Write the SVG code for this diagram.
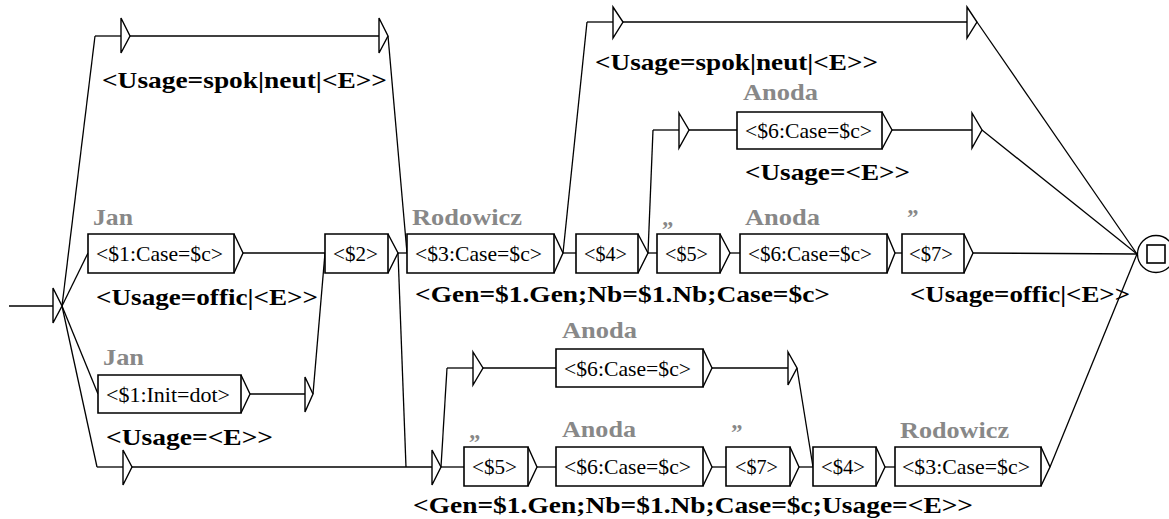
<svg xmlns="http://www.w3.org/2000/svg" width="1169" height="519" viewBox="0 0 1169 519">
<style>
.bx{fill:#fff;stroke:#000;stroke-width:1.6}
.ar{fill:none;stroke:#000;stroke-width:1.4}
.cn line,.cn polyline{stroke:#000;stroke-width:1.3;fill:none}
.tri{fill:#fff;stroke:#000;stroke-width:1.4}
.in{font-family:"Liberation Serif","Times New Roman",serif;font-size:21px;fill:#000}
.out{font-family:"Liberation Serif","Times New Roman",serif;font-size:23px;font-weight:bold;fill:#000}
.lbl{font-family:"Liberation Serif","Times New Roman",serif;font-size:23px;font-weight:bold;fill:#888}
</style>
<rect width="1169" height="519" fill="#fff"/>
<g class="cn" id="connectors">
<line x1="9" y1="306" x2="53" y2="306"/>
<line x1="62" y1="306" x2="95" y2="36"/>
<line x1="62" y1="306" x2="88" y2="253"/>
<line x1="62" y1="306" x2="98" y2="394"/>
<line x1="62" y1="306" x2="97" y2="467"/>
<line x1="95" y1="36" x2="121" y2="36"/>
<line x1="130" y1="36" x2="379" y2="36"/>
<line x1="388" y1="36" x2="407" y2="253"/>
<line x1="243" y1="253" x2="325" y2="253"/>
<line x1="250" y1="394" x2="305" y2="394"/>
<line x1="313" y1="394" x2="325" y2="253"/>
<line x1="398" y1="253" x2="407" y2="253"/>
<line x1="398" y1="253" x2="406" y2="467"/>
<line x1="97" y1="467" x2="123" y2="467"/>
<line x1="132" y1="467" x2="432" y2="467"/>
<line x1="563" y1="253" x2="576" y2="253"/>
<line x1="563" y1="253" x2="587" y2="22"/>
<line x1="587" y1="22" x2="613" y2="22"/>
<line x1="623" y1="22" x2="967" y2="22"/>
<line x1="977" y1="22" x2="1137" y2="254"/>
<line x1="648" y1="253" x2="657" y2="253"/>
<line x1="648" y1="253" x2="653" y2="130"/>
<line x1="653" y1="130" x2="679" y2="130"/>
<line x1="689" y1="130" x2="737" y2="130"/>
<line x1="892" y1="130" x2="972" y2="130"/>
<line x1="982" y1="130" x2="1137" y2="254"/>
<line x1="730" y1="253" x2="740" y2="253"/>
<line x1="895" y1="253" x2="902" y2="253"/>
<line x1="973" y1="253" x2="1137" y2="254"/>
<line x1="441" y1="467" x2="464" y2="467"/>
<line x1="441" y1="467" x2="447" y2="368"/>
<line x1="447" y1="368" x2="473" y2="368"/>
<line x1="483" y1="368" x2="556" y2="368"/>
<line x1="712" y1="368" x2="788" y2="368"/>
<line x1="797" y1="368" x2="813" y2="467"/>
<line x1="537" y1="467" x2="556" y2="467"/>
<line x1="712" y1="467" x2="726" y2="467"/>
<line x1="799" y1="467" x2="813" y2="467"/>
<line x1="885" y1="467" x2="895" y2="467"/>
<line x1="1050" y1="467" x2="1137" y2="254"/>
</g>
<g id="initial"><path class="tri" d="M53 288 L62 306 L53 323 Z"/></g>
<g id="final"><circle cx="1156" cy="254" r="18.5" fill="#fff" stroke="#000" stroke-width="1.3"/><rect x="1147" y="245" width="18" height="18" fill="#fff" stroke="#000" stroke-width="1.6"/></g>
<g id="eps-A"><path class="tri" d="M121 18 L130 36 L121 53 Z"/><path class="tri" d="M379 18 L388 36 L379 53 Z"/><text class="out" x="102" y="88" textLength="285" lengthAdjust="spacingAndGlyphs">&lt;Usage=spok|neut|&lt;E&gt;&gt;</text></g>
<g id="eps-G"><path class="tri" d="M613 7 L623 22 L613 38 Z"/><path class="tri" d="M967 7 L977 22 L967 38 Z"/><text class="out" x="595" y="70" textLength="283" lengthAdjust="spacingAndGlyphs">&lt;Usage=spok|neut|&lt;E&gt;&gt;</text></g>
<g id="eps-I"><path class="tri" d="M679 113 L689 130 L679 148 Z"/><path class="tri" d="M972 113 L982 130 L972 148 Z"/></g>
<g id="eps-C2"><path class="tri" d="M305 377 L313 394 L305 412 Z"/></g>
<g id="eps-D"><path class="tri" d="M123 450 L132 467 L123 485 Z"/></g>
<g id="eps-L"><path class="tri" d="M432 450 L441 467 L432 485 Z"/><text class="out" x="413" y="513" textLength="560" lengthAdjust="spacingAndGlyphs">&lt;Gen=$1.Gen;Nb=$1.Nb;Case=$c;Usage=&lt;E&gt;&gt;</text></g>
<g id="eps-M"><path class="tri" d="M473 352 L483 368 L473 385 Z"/><path class="tri" d="M788 352 L797 368 L788 385 Z"/></g>
<g id="box-B"><path class="bx" d="M88 234 H234 V273 H88 Z"/><path class="ar" d="M234 234 L243 253 L234 273"/><text class="in" x="96" y="261" textLength="127" lengthAdjust="spacingAndGlyphs">&lt;$1:Case=$c&gt;</text><text class="lbl" x="93" y="225" textLength="40" lengthAdjust="spacingAndGlyphs">Jan</text><text class="out" x="96" y="305" textLength="222" lengthAdjust="spacingAndGlyphs">&lt;Usage=offic|&lt;E&gt;&gt;</text></g>
<g id="box-C"><path class="bx" d="M98 375 H241 V413 H98 Z"/><path class="ar" d="M241 375 L250 394 L241 413"/><text class="in" x="106" y="402" textLength="124" lengthAdjust="spacingAndGlyphs">&lt;$1:Init=dot&gt;</text><text class="lbl" x="103" y="365" textLength="41" lengthAdjust="spacingAndGlyphs">Jan</text><text class="out" x="106" y="445" textLength="167" lengthAdjust="spacingAndGlyphs">&lt;Usage=&lt;E&gt;&gt;</text></g>
<g id="box-E"><path class="bx" d="M325 234 H388 V273 H325 Z"/><path class="ar" d="M388 234 L398 253 L388 273"/><text class="in" x="333" y="261" textLength="45" lengthAdjust="spacingAndGlyphs">&lt;$2&gt;</text></g>
<g id="box-F"><path class="bx" d="M407 234 H554 V273 H407 Z"/><path class="ar" d="M554 234 L563 253 L554 273"/><text class="in" x="415" y="261" textLength="127" lengthAdjust="spacingAndGlyphs">&lt;$3:Case=$c&gt;</text><text class="lbl" x="412" y="225" textLength="110" lengthAdjust="spacingAndGlyphs">Rodowicz</text><text class="out" x="415" y="302" textLength="415" lengthAdjust="spacingAndGlyphs">&lt;Gen=$1.Gen;Nb=$1.Nb;Case=$c&gt;</text></g>
<g id="box-H"><path class="bx" d="M576 234 H638 V273 H576 Z"/><path class="ar" d="M638 234 L648 253 L638 273"/><text class="in" x="584" y="261" textLength="43" lengthAdjust="spacingAndGlyphs">&lt;$4&gt;</text></g>
<g id="box-J"><path class="bx" d="M657 234 H720 V273 H657 Z"/><path class="ar" d="M720 234 L730 253 L720 273"/><text class="in" x="665" y="261" textLength="43" lengthAdjust="spacingAndGlyphs">&lt;$5&gt;</text><text class="lbl" x="662" y="225">„</text></g>
<g id="box-K"><path class="bx" d="M740 234 H887 V273 H740 Z"/><path class="ar" d="M887 234 L895 253 L887 273"/><text class="in" x="748" y="261" textLength="124" lengthAdjust="spacingAndGlyphs">&lt;$6:Case=$c&gt;</text><text class="lbl" x="745" y="225" textLength="75" lengthAdjust="spacingAndGlyphs">Anoda</text></g>
<g id="box-S7"><path class="bx" d="M902 234 H964 V273 H902 Z"/><path class="ar" d="M964 234 L973 253 L964 273"/><text class="in" x="909" y="261" textLength="44" lengthAdjust="spacingAndGlyphs">&lt;$7&gt;</text><text class="lbl" x="907" y="225">”</text><text class="out" x="910" y="302" textLength="220" lengthAdjust="spacingAndGlyphs">&lt;Usage=offic|&lt;E&gt;&gt;</text></g>
<g id="box-I6"><path class="bx" d="M737 112 H882 V149 H737 Z"/><path class="ar" d="M882 112 L892 130 L882 149"/><text class="in" x="745" y="138" textLength="127" lengthAdjust="spacingAndGlyphs">&lt;$6:Case=$c&gt;</text><text class="lbl" x="743" y="100" textLength="75" lengthAdjust="spacingAndGlyphs">Anoda</text><text class="out" x="745" y="180" textLength="165" lengthAdjust="spacingAndGlyphs">&lt;Usage=&lt;E&gt;&gt;</text></g>
<g id="box-M6"><path class="bx" d="M556 349 H703 V387 H556 Z"/><path class="ar" d="M703 349 L712 368 L703 387"/><text class="in" x="564" y="376" textLength="127" lengthAdjust="spacingAndGlyphs">&lt;$6:Case=$c&gt;</text><text class="lbl" x="562" y="338" textLength="75" lengthAdjust="spacingAndGlyphs">Anoda</text></g>
<g id="box-L5"><path class="bx" d="M464 447 H528 V486 H464 Z"/><path class="ar" d="M528 447 L537 467 L528 486"/><text class="in" x="472" y="474" textLength="45" lengthAdjust="spacingAndGlyphs">&lt;$5&gt;</text><text class="lbl" x="469" y="438">„</text></g>
<g id="box-L6"><path class="bx" d="M556 447 H703 V486 H556 Z"/><path class="ar" d="M703 447 L712 467 L703 486"/><text class="in" x="564" y="474" textLength="127" lengthAdjust="spacingAndGlyphs">&lt;$6:Case=$c&gt;</text><text class="lbl" x="562" y="437" textLength="74" lengthAdjust="spacingAndGlyphs">Anoda</text></g>
<g id="box-L7"><path class="bx" d="M726 447 H790 V486 H726 Z"/><path class="ar" d="M790 447 L799 467 L790 486"/><text class="in" x="735" y="474" textLength="43" lengthAdjust="spacingAndGlyphs">&lt;$7&gt;</text><text class="lbl" x="731" y="440">”</text></g>
<g id="box-L4"><path class="bx" d="M813 447 H876 V486 H813 Z"/><path class="ar" d="M876 447 L885 467 L876 486"/><text class="in" x="821" y="474" textLength="44" lengthAdjust="spacingAndGlyphs">&lt;$4&gt;</text></g>
<g id="box-L3"><path class="bx" d="M895 447 H1041 V486 H895 Z"/><path class="ar" d="M1041 447 L1050 467 L1041 486"/><text class="in" x="902" y="474" textLength="128" lengthAdjust="spacingAndGlyphs">&lt;$3:Case=$c&gt;</text><text class="lbl" x="900" y="438" textLength="109" lengthAdjust="spacingAndGlyphs">Rodowicz</text></g>
</svg>
